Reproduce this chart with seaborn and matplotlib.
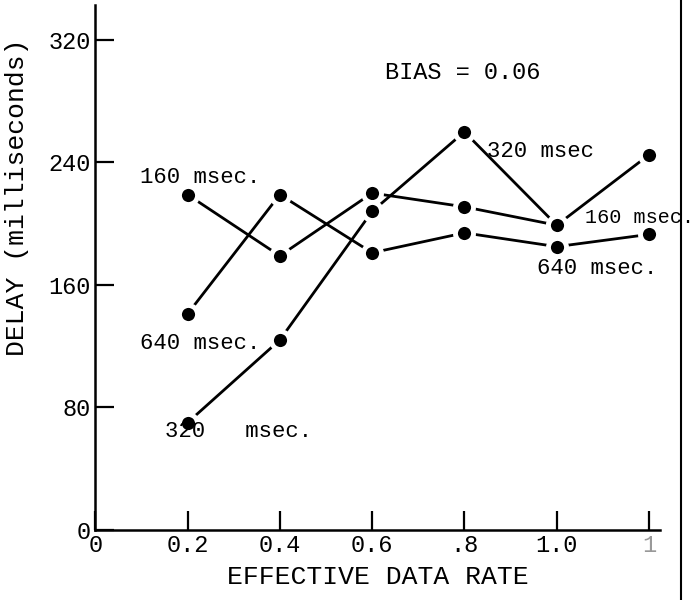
import matplotlib
matplotlib.use("Agg")
import matplotlib.pyplot as plt
import seaborn as sns
import pandas as pd
import numpy as np
from matplotlib.lines import Line2D

# ---- data ----
rates = [0.2, 0.4, 0.6, 0.8, 1.0, 1.2]
delay_160 = [219, 179, 220, 211, 199, np.nan]
delay_320 = [70, 124, 208, 260, 199, 245]
delay_640 = [141, 219, 181, 194, 185, 193]

x_ticks = [0, 0.2, 0.4, 0.6, 0.8, 1.0, 1.2]
x_ticklabels = ["0", "0.2", "0.4", "0.6", ".8", "1.0", "1"]
y_ticks = [0, 80, 160, 240, 320]

series = {"160 msec.": delay_160, "320 msec.": delay_320, "640 msec.": delay_640}
df = pd.concat(
    [pd.DataFrame({"rate": rates, "delay": v, "series": k}) for k, v in series.items()],
    ignore_index=True,
)

sns.set_theme(style="white")
plt.rcParams["font.family"] = ["Liberation Mono", "DejaVu Sans Mono"]

fig = plt.figure(figsize=(7, 6), dpi=100)
ax = fig.add_axes([0.136, 0.117, 0.807, 0.875])

for name, sub in df.groupby("series", sort=False):
    sub = sub.dropna()
    sns.lineplot(data=sub, x="rate", y="delay", ax=ax, color="black", lw=2.0,
                 marker="o", markersize=13, markerfacecolor="black",
                 markeredgecolor="white", markeredgewidth=3.5,
                 estimator=None, sort=False, legend=False)

ax.set_xlim(0, 1.224)
ax.set_ylim(0, 343)
ax.set_xticks(x_ticks)
ax.set_xticklabels(x_ticklabels)
ax.set_yticks(y_ticks)
ax.tick_params(direction="in", length=14, width=1.6, labelsize=17, pad=3,
               colors="black", bottom=True, left=True)
ax.get_xticklabels()[-1].set_color("#999999")
for s in ["top", "right"]:
    ax.spines[s].set_visible(False)
for s in ["left", "bottom"]:
    ax.spines[s].set_color("black")
    ax.spines[s].set_linewidth(1.8)

ax.set_xlabel("EFFECTIVE DATA RATE", fontsize=19, labelpad=6, color="black")
ax.set_ylabel("DELAY (milliseconds)", fontsize=19, color="black")
ax.yaxis.set_label_coords(-0.118, 0.634)

txt = dict(fontsize=16, color="black", va="center", ha="left")
ax.text(0.0975, 230, "160 msec.", **txt)
ax.text(0.0975, 122, "640 msec.", **txt)
ax.text(0.152, 64, "320   msec.", **txt)
ax.text(0.849, 247, "320 msec", **txt)
ax.text(1.062, 204, "160 msec.", clip_on=False, fontsize=14.5, color="black",
        va="center", ha="left")
ax.text(0.958, 171, "640 msec.", **txt)
ax.text(0.628, 299, "BIAS = 0.06", fontsize=17, color="black", va="center", ha="left")

# scan border on the right
fig.add_artist(Line2D([0.973, 0.973], [0.0, 1.0], transform=fig.transFigure,
                      color="black", lw=1.5, zorder=0))

fig.savefig("out.png", dpi=100, facecolor="white")
